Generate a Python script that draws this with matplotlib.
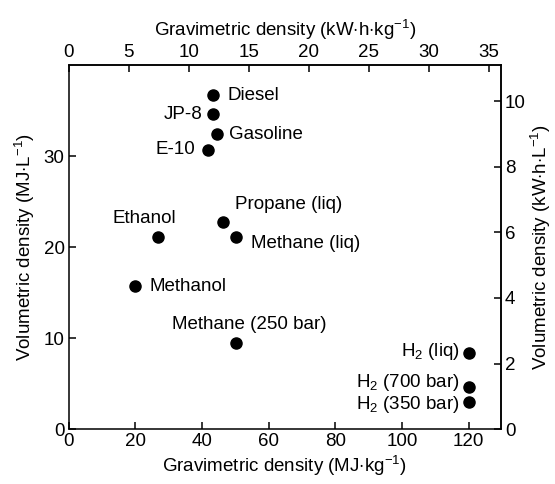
import matplotlib
matplotlib.use('Agg')
import matplotlib.pyplot as plt

plt.rcParams['font.family'] = ['Liberation Sans', 'DejaVu Sans']
plt.rcParams['mathtext.fontset'] = 'custom'
plt.rcParams['mathtext.rm'] = 'Liberation Sans'
plt.rcParams['mathtext.it'] = 'Liberation Sans:italic'
plt.rcParams['font.size'] = 13.5

# fuel data (MJ/kg, MJ/L)
fuels = ['Diesel', 'JP-8', 'Gasoline', 'E-10', 'Propane (liq)', 'Methane (liq)',
         'Ethanol', 'Methanol', 'Methane (250 bar)',
         r'H$_\mathrm{2}$ (liq)', r'H$_\mathrm{2}$ (700 bar)', r'H$_\mathrm{2}$ (350 bar)']
grav = [43.3, 43.3, 44.5, 41.7, 46.2, 50.1, 26.8, 20.0, 50.1, 120, 120, 120]
vol = [36.7, 34.6, 32.4, 30.7, 22.8, 21.1, 21.1, 15.7, 9.4, 8.4, 4.6, 2.95]

# label placement (offset pixels, ha, va)
offs = [(14, 0, 'left', 'center'), (-11, 0, 'right', 'center'),
        (12, 0, 'left', 'center'), (-13, 0, 'right', 'center'),
        (12, 17, 'left', 'center'), (15, -6, 'left', 'center'),
        (-14, 19, 'center', 'center'), (14, 0, 'left', 'center'),
        (14, 19, 'center', 'center'),
        (-9, 1, 'right', 'center'), (-9, 5, 'right', 'center'), (-9, -2, 'right', 'center')]

fig = plt.figure(figsize=(5.55, 4.84), dpi=100)
ax = fig.add_axes([0.124, 0.1136, 0.778, 0.752])

ax.plot(grav, vol, 'o', color='black', markersize=8, clip_on=False)
for name, x, y, (dx, dy, ha, va) in zip(fuels, grav, vol, offs):
    ax.annotate(name, (x, y), xytext=(dx, dy), textcoords='offset pixels',
                ha=ha, va=va)

ax.set_xlim(0, 129.6)
ax.set_ylim(0, 40)
ax.set_xticks([0, 20, 40, 60, 80, 100, 120])
ax.set_yticks([0, 10, 20, 30])
ax.set_xlabel(r'Gravimetric density (MJ$\cdot$kg$^{-1}$)', labelpad=3)
ax.set_ylabel(r'Volumetric density (MJ$\cdot$L$^{-1}$)', labelpad=5)
ax.tick_params(direction='in', length=5, width=1.1, pad=3)

top = ax.secondary_xaxis('top', functions=(lambda x: x / 3.6, lambda x: x * 3.6))
top.set_xticks([0, 5, 10, 15, 20, 25, 30, 35])
top.set_xlabel(r'Gravimetric density (kW$\cdot$h$\cdot$kg$^{-1}$)', labelpad=6)
top.tick_params(direction='in', length=5, width=1.1, pad=3)

right = ax.secondary_yaxis('right', functions=(lambda y: y / 3.6, lambda y: y * 3.6))
right.set_yticks([0, 2, 4, 6, 8, 10])
right.set_ylabel(r'Volumetric density (kW$\cdot$h$\cdot$L$^{-1}$)', labelpad=2)
right.tick_params(direction='in', length=5, width=1.1, pad=3)

for a in (ax, top, right):
    for s in a.spines.values():
        s.set_linewidth(1.1)

fig.savefig('out.png', dpi=100)
